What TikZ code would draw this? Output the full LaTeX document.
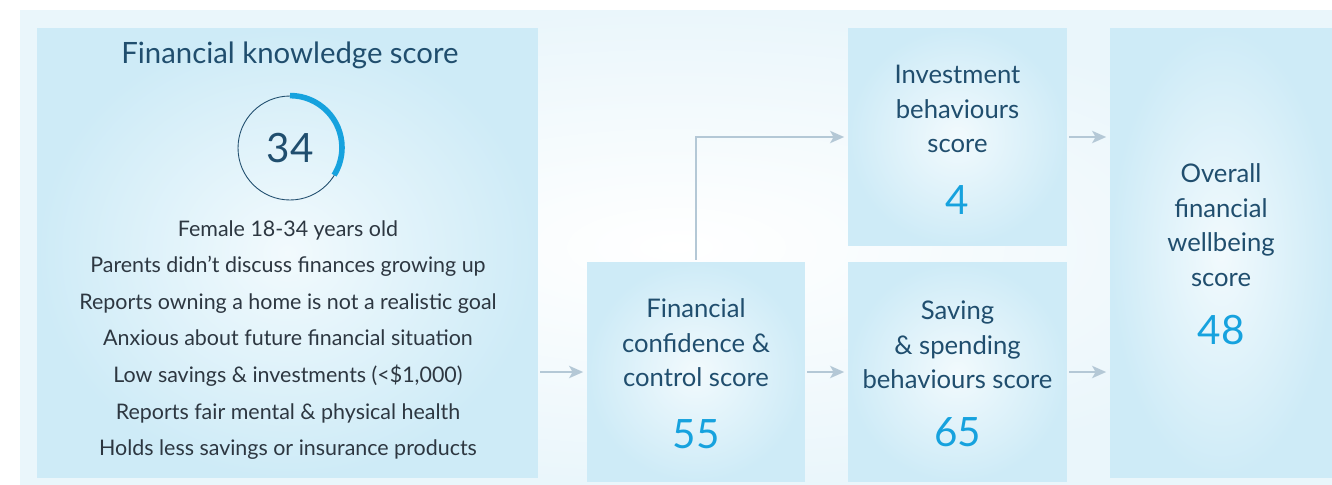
\documentclass[tikz,border=0pt]{standalone}
\usepackage{fontspec}
\setmainfont{Lato}
\usepackage{tikz}
\usetikzlibrary{arrows,arrows.meta,shapes,positioning}
\definecolor{fwtext}{RGB}{32,78,110}
\definecolor{fwbody}{RGB}{45,55,65}
\definecolor{fwblue}{RGB}{22,162,222}
\definecolor{fwarrow}{RGB}{180,200,214}
\definecolor{fwpanel}{RGB}{234,246,251}
\definecolor{fwbox}{RGB}{206,235,247}
\definecolor{fwboxlight}{RGB}{242,250,253}
\tikzstyle{arrow} = [line width=1.1pt,->,>={Stealth[length=8pt,width=7pt,inset=2pt]},color=fwarrow,shorten >=2pt,shorten <=1pt]
\tikzstyle{scorebox} = [rectangle, shade, inner color=fwboxlight, outer color=fwbox, inner sep=0pt]
\tikzstyle{boxtitle} = [text=fwtext, align=center, font=\fontsize{14.6}{19.6}\selectfont]
\tikzstyle{boxscore} = [text=fwblue, font=\fontsize{23}{23}\selectfont]

\begin{document}
\begin{tikzpicture}[x=0.02cm, y=-0.02cm]
\useasboundingbox (0,0) rectangle (1332,484);
% background panel
\shade[inner color=white, outer color=fwpanel] (20,10) rectangle (1332,484);

% Financial knowledge
\node (knowledge) [scorebox, minimum width=10.02cm, minimum height=9cm] at (287.5,253) {};
\node (kntitle) [text=fwtext, font=\fontsize{16.7}{16.7}\selectfont] at (290,55) {Financial knowledge score};
\node (kncircle) [circle, draw=fwtext, line width=0.5pt, minimum size=2.08cm] at (290,148) {};
\node (knscore) [text=fwtext, font=\fontsize{23}{23}\selectfont] at (kncircle.center) {34};
\draw[fwblue, line width=3.2pt] (kncircle.north) arc[start angle=90, end angle=-32, radius=1.04cm];
\node (knlist) [text=fwbody, align=center, font=\fontsize{12.2}{20.8}\selectfont] at (288,340) {
Female 18-34 years old\\
Parents didn’t discuss finances growing up\\
Reports owning a home is not a realistic goal\\
Anxious about future financial situation\\
Low savings \& investments (<\$1,000)\\
Reports fair mental \& physical health\\
Holds less savings or insurance products
};

% Confidence
\node (confbox) [scorebox, minimum width=4.36cm, minimum height=4.4cm] at (696,372) {};
\node (conftitle) [boxtitle] at (696,343) {Financial\\confidence \&\\control score};
\node (confscore) [boxscore] at (696,434) {55};

% Investment
\node (invbox) [scorebox, minimum width=4.38cm, minimum height=4.36cm] at (957.5,137) {};
\node (invtitle) [boxtitle] at (957.5,109) {Investment\\behaviours\\score};
\node (invscore) [boxscore] at (957.5,200) {4};

% Saving
\node (savebox) [scorebox, minimum width=4.38cm, minimum height=4.4cm] at (957.5,372) {};
\node (savetitle) [boxtitle] at (957.5,345) {Saving\\\& spending\\behaviours score};
\node (savescore) [boxscore] at (957.5,432) {65};

% Overall
\node (overall) [scorebox, minimum width=4.44cm, minimum height=9cm] at (1221,253) {};
\node (overtitle) [boxtitle] at (1221,225) {Overall\\financial\\wellbeing\\score};
\node (overscore) [boxscore] at (1221,330) {48};

% connectors
\draw[arrow] (knowledge.east |- confbox.west) -- (confbox.west);
\draw[arrow] (confbox.east) -- (savebox.west);
\draw[arrow] (confbox.north) |- (invbox.west);
\draw[arrow] (invbox.east) -- (overall.west |- invbox.east);
\draw[arrow] (savebox.east) -- (overall.west |- savebox.east);
\end{tikzpicture}
\end{document}
